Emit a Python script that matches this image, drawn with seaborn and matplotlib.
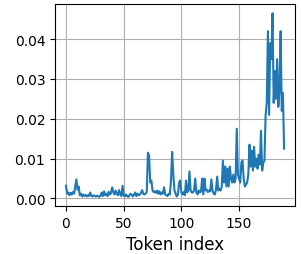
import numpy as np
import pandas as pd
import matplotlib
matplotlib.use('Agg')
import matplotlib.pyplot as plt
import seaborn as sns

# attention weight per token
weights_0_69 = [
    0.0032, 0.0012, 0.0015, 0.0008, 0.0014, 0.0010, 0.0016, 0.0012, 0.0030, 0.0048,
    0.0022, 0.0030, 0.0008, 0.0012, 0.0005, 0.0010, 0.0006, 0.0009, 0.0005, 0.0008,
    0.0006, 0.0015, 0.0007, 0.0005, 0.0008, 0.0006, 0.0005, 0.0007, 0.0005, 0.0004,
    0.0008, 0.0015, 0.0006, 0.0018, 0.0008, 0.0012, 0.0006, 0.0017, 0.0010, 0.0014,
    0.0028, 0.0016, 0.0010, 0.0020, 0.0012, 0.0008, 0.0021, 0.0010, 0.0006, 0.0032,
    0.0008, 0.0005, 0.0010, 0.0006, 0.0004, 0.0008, 0.0012, 0.0009, 0.0005, 0.0010,
    0.0015, 0.0006, 0.0012, 0.0008, 0.0010, 0.0014, 0.0021, 0.0012, 0.0010, 0.0012,
]
weights_70_139 = [
    0.0016, 0.0115, 0.0108, 0.0040, 0.0045, 0.0020, 0.0016, 0.0018, 0.0014, 0.0020,
    0.0012, 0.0018, 0.0010, 0.0015, 0.0012, 0.0028, 0.0010, 0.0008, 0.0006, 0.0012,
    0.0010, 0.0045, 0.0117, 0.0060, 0.0020, 0.0012, 0.0005, 0.0010, 0.0040, 0.0045,
    0.0015, 0.0010, 0.0016, 0.0008, 0.0045, 0.0015, 0.0020, 0.0068, 0.0020, 0.0015,
    0.0015, 0.0020, 0.0050, 0.0015, 0.0010, 0.0020, 0.0015, 0.0018, 0.0050, 0.0010,
    0.0050, 0.0020, 0.0022, 0.0016, 0.0020, 0.0018, 0.0048, 0.0020, 0.0012, 0.0010,
    0.0022, 0.0055, 0.0020, 0.0025, 0.0020, 0.0030, 0.0095, 0.0040, 0.0080, 0.0030,
]
weights_140_189 = [
    0.0075, 0.0030, 0.0080, 0.0050, 0.0040, 0.0060, 0.0040, 0.0050, 0.0175, 0.0060,
    0.0050, 0.0040, 0.0090, 0.0095, 0.0050, 0.0030, 0.0035, 0.0040, 0.0060, 0.0135,
    0.0080, 0.0120, 0.0070, 0.0130, 0.0080, 0.0100, 0.0075, 0.0110, 0.0085, 0.0170,
    0.0070, 0.0090, 0.0095, 0.0210, 0.0240, 0.0420, 0.0210, 0.0390, 0.0350, 0.0465,
    0.0240, 0.0320, 0.0250, 0.0350, 0.0230, 0.0270, 0.0420, 0.0220, 0.0265, 0.0125,
]

weights = weights_0_69 + weights_70_139 + weights_140_189
tokens = np.arange(len(weights))
df = pd.DataFrame({'token': tokens, 'weight': weights})

fig = plt.figure(figsize=(3.01, 2.55), dpi=100)
ax = fig.add_axes([0.183, 0.188, 0.797, 0.792])
sns.lineplot(data=df, x='token', y='weight', ax=ax, color='#1f77b4', linewidth=1.5)
ax.grid(True, color='#b0b0b0', linewidth=0.8)
ax.set_axisbelow(True)
ax.set_xticks([0, 50, 100, 150])
ax.set_yticks([0.0, 0.01, 0.02, 0.03, 0.04])
ax.tick_params(labelsize=10)
ax.set_xlabel('Token index', fontsize=12)
ax.set_ylabel('')

fig.savefig('out.png', dpi=100)
